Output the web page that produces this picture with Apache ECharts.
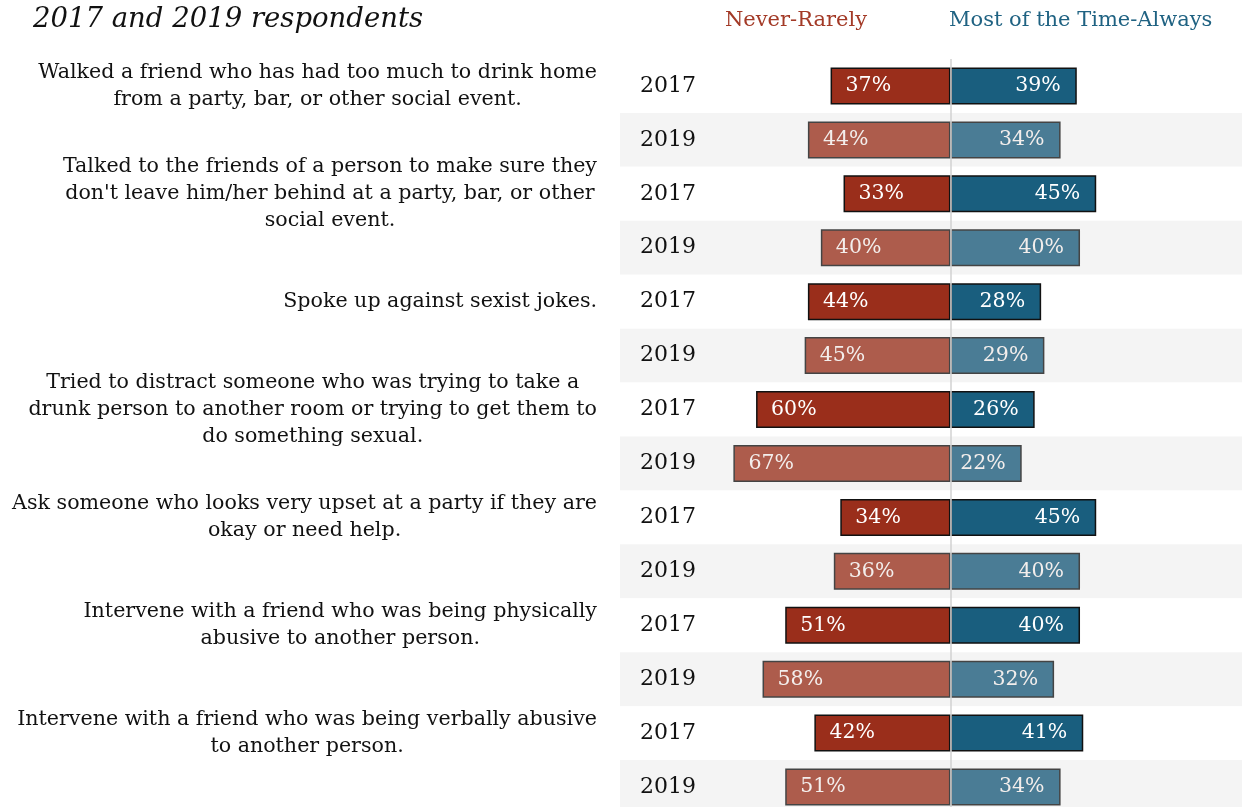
<!DOCTYPE html>
<html>
<head>
<meta charset="utf-8">
<script src="https://cdn.jsdelivr.net/npm/echarts@6/dist/echarts.min.js"></script>
<style>
  html, body { margin: 0; padding: 0; background: #ffffff; }
  #chart { width: 1242px; height: 807px; }
</style>
</head>
<body>
<div id="chart"></div>
<script>
// Bystander behaviours, share of respondents per answer group
const questions = [
  'Walked a friend who has had too much to drink home\nfrom a party, bar, or other social event.',
  'Talked to the friends of a person to make sure they\ndon\'t leave him/her behind at a party, bar, or other\nsocial event.',
  'Spoke up against sexist jokes.',
  'Tried to distract someone who was trying to take a\ndrunk person to another room or trying to get them to\ndo something sexual.',
  'Ask someone who looks very upset at a party if they are\nokay or need help.',
  'Intervene with a friend who was being physically\nabusive to another person.',
  'Intervene with a friend who was being verbally abusive\nto another person.'
];
const years = ['2017', '2019'];
// one value per (question, year) row, in question order, 2017 then 2019
const neverRarely = [37, 44, 33, 40, 44, 45, 60, 67, 34, 36, 51, 58, 42, 51];
const mostAlways  = [39, 34, 45, 40, 28, 29, 26, 22, 45, 40, 40, 32, 41, 34];
const legendLabels = ['Never-Rarely', 'Most of the Time-Always'];
const titleText = '2017 and 2019 respondents';

const FONT = '"DejaVu Serif", Georgia, serif';

const rowKeys = [];
questions.forEach((q, i) => years.forEach(y => rowKeys.push(i + '|' + y)));

const palette = {
  never:  ['#9a2e1b', '#ad5c4c'],
  always: ['#195e7e', '#4a7c95'],
  border: ['#111111', '#444444'],
  text:   ['#ffffff', '#f3eeec']
};

function items(values, side, sign) {
  return values.map((v, i) => {
    const y = i % 2;
    return {
      value: sign * v,
      itemStyle: { color: palette[side][y], borderColor: palette.border[y], borderWidth: 1.5 },
      label: { color: palette.text[y] }
    };
  });
}

const chart = echarts.init(document.getElementById('chart'), null, { renderer: 'canvas' });

const labelBase = {
  show: true,
  fontFamily: FONT,
  fontSize: 20.5,
  formatter: p => Math.abs(p.value) + '%'
};

chart.setOption({
  animation: false,
  backgroundColor: '#ffffff',
  // the last band runs past the bottom edge of the canvas
  grid: { left: 620, right: 0, top: 59, height: 755, outerBoundsMode: 'none', containLabel: false },
  xAxis: {
    type: 'value', min: -102, max: 90,
    axisLine: { show: false }, axisTick: { show: false },
    axisLabel: { show: false }, splitLine: { show: false }
  },
  yAxis: {
    type: 'category', data: rowKeys, inverse: true,
    axisLine: { show: false }, axisTick: { show: false },
    axisLabel: {
      formatter: v => v.split('|')[1],
      align: 'left', margin: -20,
      fontFamily: FONT, fontSize: 22, color: '#111111'
    },
    splitArea: { show: true, areaStyle: { color: ['#ffffff', '#f4f4f4'] } }
  },
  series: [
    {
      name: legendLabels[0], type: 'bar', stack: 'share', barWidth: 37,
      data: items(neverRarely, 'never', -1),
      label: Object.assign({ position: 'insideLeft', distance: 15 }, labelBase)
    },
    {
      name: legendLabels[1], type: 'bar', stack: 'share', barWidth: 37,
      data: items(mostAlways, 'always', 1),
      label: Object.assign({ position: 'insideRight', distance: 16 }, labelBase),
      markLine: {
        silent: true, symbol: ['none', 'none'],
        label: { show: false },
        lineStyle: { color: '#d2d2d2', width: 1.5, type: 'solid' },
        data: [{ xAxis: 0 }]
      }
    }
  ]
});

// question text blocks: block right-aligned, lines centred inside the block
const measure = document.createElement('canvas').getContext('2d');
const qSize = 20.6;
measure.font = qSize + 'px ' + FONT;
const blockRight = 597;
const graphics = [];
questions.forEach((q, i) => {
  const w = Math.max(...q.split('\n').map(s => measure.measureText(s).width));
  const y = chart.convertToPixel({ yAxisIndex: 0 }, rowKeys[i * 2]);
  graphics.push({
    type: 'text', silent: true,
    style: {
      text: q, x: blockRight - w / 2, y: y,
      align: 'center', verticalAlign: 'middle',
      fontFamily: FONT, fontSize: qSize, lineHeight: 27, fill: '#111111'
    }
  });
});
graphics.push({
  type: 'text', silent: true,
  style: { text: titleText, x: 33, y: 20, verticalAlign: 'middle',
    fontFamily: FONT, fontStyle: 'italic', fontSize: 27.5, fill: '#111111' }
});
graphics.push({
  type: 'text', silent: true,
  style: { text: legendLabels[0], x: 867, y: 21, align: 'right', verticalAlign: 'middle',
    fontFamily: FONT, fontSize: 21, fill: '#a33a27' }
});
graphics.push({
  type: 'text', silent: true,
  style: { text: legendLabels[1], x: 949, y: 21, align: 'left', verticalAlign: 'middle',
    fontFamily: FONT, fontSize: 21, fill: '#1f6282' }
});
chart.setOption({ graphic: graphics });
</script>
</body>
</html>
